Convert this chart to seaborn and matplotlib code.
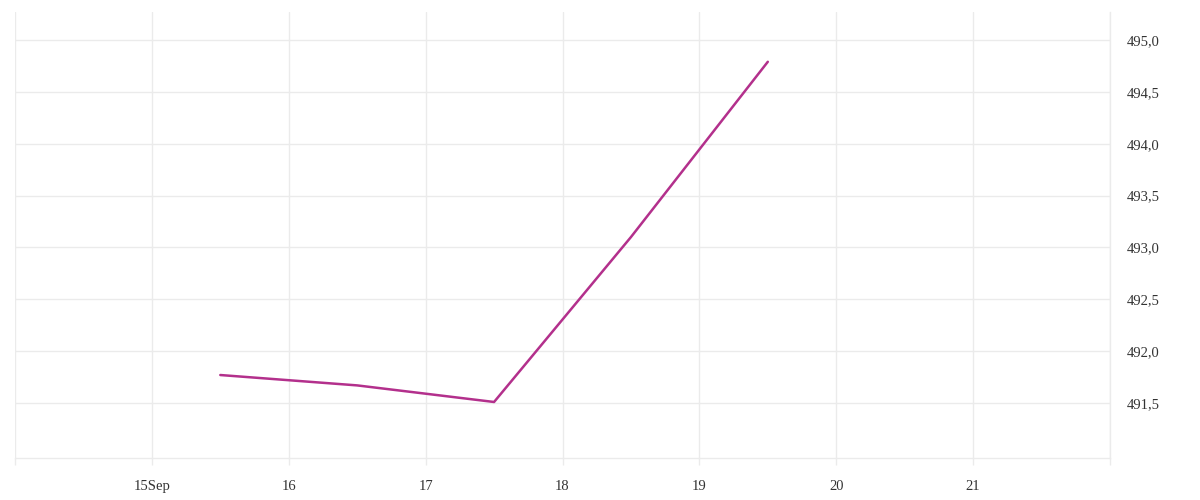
import pandas as pd
import matplotlib.pyplot as plt
import seaborn as sns

# values (one point per day, plotted at midday)
dates = ["2023-09-15 12:00", "2023-09-16 12:00", "2023-09-17 12:00",
         "2023-09-18 12:00", "2023-09-19 12:00"]
values = [491.77, 491.67, 491.51, 493.10, 494.79]

x_ticks = ["2023-09-14", "2023-09-15", "2023-09-16", "2023-09-17", "2023-09-18",
           "2023-09-19", "2023-09-20", "2023-09-21", "2023-09-22"]
x_tick_labels = ["", "15Sep", "16", "17", "18", "19", "20", "21", ""]
y_ticks = [491.5, 492.0, 492.5, 493.0, 493.5, 494.0, 494.5, 495.0]
y_tick_labels = ["491,5", "492,0", "492,5", "493,0", "493,5", "494,0", "494,5", "495,0"]

df = pd.DataFrame({"date": pd.to_datetime(dates), "value": values})

sns.set_theme(style="whitegrid")
plt.rcParams['font.family'] = ['Liberation Serif', 'DejaVu Serif']

grid_col = '#ebebeb'
text_col = '#333333'

fig = plt.figure(figsize=(12, 5), dpi=100)
ax = fig.add_axes([0.0125, 0.084, 0.9125, 0.892])

sns.lineplot(data=df, x="date", y="value", color='#b3308c', linewidth=1.8, ax=ax)

tick_pos = pd.to_datetime(x_ticks)
ax.set_xlim(tick_pos[0], tick_pos[-1])
ax.set_ylim(490.97, 495.27)
ax.set_xticks(tick_pos)
ax.set_xticklabels(x_tick_labels)
ax.set_yticks(y_ticks)
ax.set_yticklabels(y_tick_labels)

ax.grid(True, color=grid_col, linewidth=1)
for s in ['top', 'left']:
    ax.spines[s].set_visible(False)
ax.spines['right'].set_color(grid_col)
ax.spines['bottom'].set_color(grid_col)
ax.spines['right'].set_linewidth(1)
ax.spines['bottom'].set_linewidth(1)

ax.yaxis.tick_right()
ax.tick_params(axis='y', length=0, pad=12, labelsize=10.5, labelcolor=text_col)
ax.tick_params(axis='x', length=5, width=1, color=grid_col, pad=10.5,
               labelsize=10.5, labelcolor=text_col, bottom=True)
for lab in ax.get_yticklabels():
    lab.set_horizontalalignment('left')

ax.set_xlabel("")
ax.set_ylabel("")

fig.savefig("out.png", dpi=100)
